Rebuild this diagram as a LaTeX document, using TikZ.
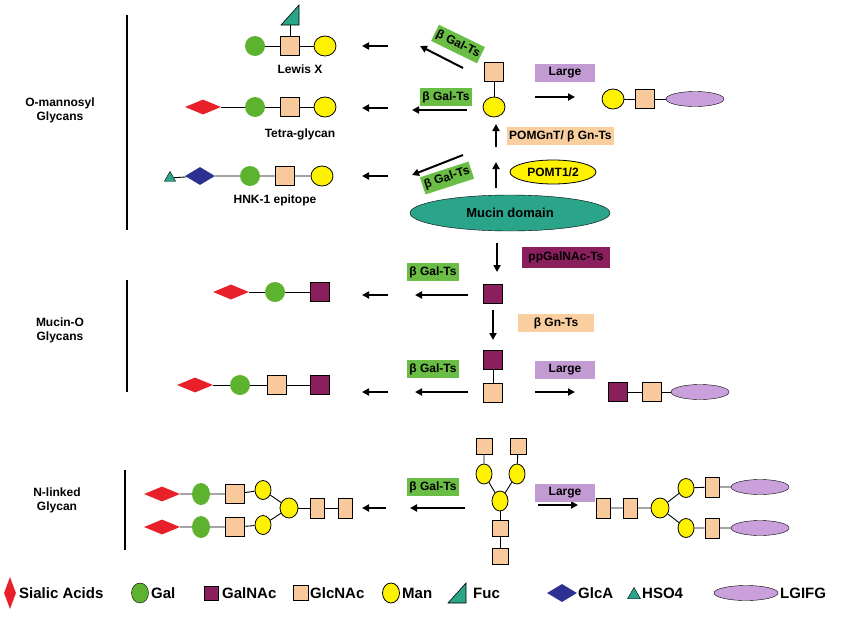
\documentclass[tikz,border=0pt]{standalone}
\usepackage{fontspec}
\setmainfont{Liberation Sans}
\usetikzlibrary{positioning, shapes.geometric, arrows.meta, calc}
\definecolor{galgreen}{HTML}{5DB330}
\definecolor{peach}{HTML}{F8C99A}
\definecolor{manyellow}{HTML}{FFF200}
\definecolor{galnacred}{HTML}{8B1F5E}
\definecolor{siared}{HTML}{E8202A}
\definecolor{glcablue}{HTML}{2E3192}
\definecolor{fucteal}{HTML}{2BA58A}
\definecolor{lavender}{HTML}{C9A0DC}
\definecolor{boxgreen}{HTML}{6ABD45}
\definecolor{boxpurple}{HTML}{C39BD3}
\definecolor{boxpeach}{HTML}{F9CFA0}
\newcommand{\lblfont}{\bfseries\fontsize{12}{14}\selectfont}
\tikzset{
    gal/.style={circle, fill=galgreen, minimum size=20pt, inner sep=0pt},
    glcnac/.style={rectangle, draw=black, fill=peach, minimum size=19pt, inner sep=0pt, line width=0.8pt},
    galnac/.style={rectangle, draw=black, fill=galnacred, minimum size=19pt, inner sep=0pt, line width=0.8pt},
    man/.style={ellipse, draw=black, fill=manyellow, minimum width=22pt, minimum height=20pt, inner sep=0pt, line width=0.8pt},
    sia/.style={diamond, fill=siared, minimum width=36pt, minimum height=15pt, inner sep=0pt},
    glca/.style={diamond, fill=glcablue, minimum width=30pt, minimum height=18pt, inner sep=0pt},
    hso/.style={regular polygon, regular polygon sides=3, draw=black, fill=fucteal, minimum size=14pt, inner sep=0pt},
    lgifg/.style={ellipse, draw=black, fill=lavender, minimum width=58pt, minimum height=15pt, inner sep=0pt},
    lnk/.style={line width=0.9pt},
    rxn/.style={line width=2pt, -{Triangle[length=7pt,width=7pt]}},
    enz/.style={fill=boxgreen, font=\lblfont, inner sep=2pt, minimum height=18pt},
    lrg/.style={fill=boxpurple, font=\lblfont, inner sep=2pt, minimum height=18pt, minimum width=60pt},
    gnt/.style={fill=boxpeach, font=\lblfont, inner sep=2pt, minimum height=18pt},
    glabel/.style={font=\lblfont},
    key/.style={font=\bfseries\fontsize{15}{17}\selectfont, anchor=west, inner sep=1pt},
    grp/.style={font=\lblfont, align=center},
    bar/.style={line width=1.5pt}
}
\newcommand{\fucose}[2]{% right-angled Fuc triangle at #2
  \coordinate (#1) at #2;
  \filldraw[fill=fucteal, draw=black, line width=0.6pt] ($(#1)+(-9,10)$) -- ($(#1)+(9,10)$) -- ($(#1)+(9,-10)$) -- cycle;}
\begin{document}
\begin{tikzpicture}[x=1pt, y=-1pt]
\useasboundingbox (0,0) rectangle (850,616);

% O-mannosyl glycans
\draw[bar] (127,15) -- (127,230);
\node[grp] (om) at (60,110) {O-mannosyl\\Glycans};

\node[gal] (lx1) at (255,46) {};
\node[glcnac] (lx2) at (290,46) {};
\node[man] (lx3) at (325,46) {};
\fucose{lx4}{(290,15)}
\draw[lnk] (lx1) -- (lx2) -- (lx3);
\draw[lnk] (lx2) -- ($(lx4)+(0,10)$);
\node[glabel] (lxl) at (300,69) {Lewis X};

\node[sia] (tg1) at (203,107) {};
\node[gal] (tg2) at (255,107) {};
\node[glcnac] (tg3) at (290,107) {};
\node[man] (tg4) at (325,107) {};
\draw[lnk] (tg1) -- (tg2) -- (tg3) -- (tg4);
\node[glabel] (tgl) at (300,134) {Tetra-glycan};

\node[hso, minimum size=13pt] (hk1) at (170,178) {};
\node[glca] (hk2) at (200,176) {};
\node[gal] (hk3) at (250,176) {};
\node[glcnac] (hk4) at (285,176) {};
\node[man] (hk5) at (322,176) {};
\draw[lnk] (hk1) -- (hk2) -- (hk3) -- (hk4) -- (hk5);
\node[glabel] (hkl) at (275,200) {HNK-1 epitope};

\coordinate (a1s) at (388,46);  \coordinate (a1e) at (362,46);
\coordinate (a2s) at (388,108); \coordinate (a2e) at (362,108);
\coordinate (a3s) at (388,176); \coordinate (a3e) at (362,176);
\draw[rxn] (a1s) -- (a1e);
\draw[rxn] (a2s) -- (a2e);
\draw[rxn] (a3s) -- (a3e);

\node[glcnac] (om1) at (494,72) {};
\node[man] (om2) at (494,107) {};
\draw[lnk] (om1) -- (om2);

\coordinate (d1s) at (463,68);  \coordinate (d1e) at (420,46);
\coordinate (d2s) at (467,110); \coordinate (d2e) at (412,110);
\coordinate (d3s) at (463,155); \coordinate (d3e) at (412,175);
\draw[rxn] (d1s) -- (d1e);
\draw[rxn] (d2s) -- (d2e);
\draw[rxn] (d3s) -- (d3e);
\node[enz, rotate=-26] (e1) at (458,44) {β Gal-Ts};
\node[enz] (e2) at (446,97) {β Gal-Ts};
\node[enz, rotate=18] (e3) at (447,178) {β Gal-Ts};

\node[ellipse, fill=fucteal, draw=black, minimum width=200pt, minimum height=36pt, font=\bfseries\fontsize{13}{15}\selectfont] (muc) at (510,213) {Mucin domain};
\coordinate (u1s) at (496,188); \coordinate (u1e) at (496,162);
\coordinate (u2s) at (496,147); \coordinate (u2e) at (496,124);
\draw[rxn] (u1s) -- (u1e);
\draw[rxn] (u2s) -- (u2e);
\node[ellipse, fill=manyellow, draw=black, line width=0.8pt, minimum width=86pt, minimum height=24pt, inner sep=0pt, font=\lblfont] (pomt) at (553,172) {POMT1/2};
\node[gnt, anchor=west] (pomgnt) at (507,136) {POMGnT/ β Gn-Ts};

\coordinate (r1s) at (535,97); \coordinate (r1e) at (575,97);
\draw[rxn] (r1s) -- (r1e);
\node[lrg] (l1) at (565,73) {Large};
\node[man] (rl1) at (613,99) {};
\node[glcnac] (rl2) at (645,99) {};
\node[lgifg] (rl3) at (695,99) {};
\draw[lnk] (rl1) -- (rl2) -- (rl3);

% Mucin-O glycans
\draw[bar] (127,280) -- (127,392);
\node[grp] (mo) at (60,330) {Mucin-O\\Glycans};

\coordinate (v1s) at (497,243); \coordinate (v1e) at (497,272);
\draw[rxn] (v1s) -- (v1e);
\node[fill=galnacred, font=\lblfont, minimum width=88pt, minimum height=21pt, inner sep=2pt] (ppg) at (566,257) {ppGalNAc-Ts};
\node[galnac] (mc1) at (493,294) {};
\coordinate (m1s) at (468,295); \coordinate (m1e) at (415,295);
\draw[rxn] (m1s) -- (m1e);
\node[enz] (e4) at (433,272) {β Gal-Ts};
\coordinate (m2s) at (388,295); \coordinate (m2e) at (362,295);
\draw[rxn] (m2s) -- (m2e);
\node[sia] (ms1) at (231,292) {};
\node[gal] (ms2) at (275,292) {};
\node[galnac] (ms3) at (320,292) {};
\draw[lnk] (ms1) -- (ms2) -- (ms3);

\coordinate (v2s) at (493,310); \coordinate (v2e) at (493,340);
\draw[rxn] (v2s) -- (v2e);
\node[gnt, minimum width=76pt] (bgn) at (556,323) {β Gn-Ts};
\node[galnac] (mc2) at (493,360) {};
\node[glcnac] (mc3) at (493,393) {};
\draw[lnk] (mc2) -- (mc3);

\coordinate (m3s) at (468,392); \coordinate (m3e) at (415,392);
\draw[rxn] (m3s) -- (m3e);
\node[enz] (e5) at (433,369) {β Gal-Ts};
\coordinate (m4s) at (388,392); \coordinate (m4e) at (362,392);
\draw[rxn] (m4s) -- (m4e);
\node[sia] (mt1) at (195,385) {};
\node[gal] (mt2) at (240,385) {};
\node[glcnac] (mt3) at (277,385) {};
\node[galnac] (mt4) at (320,385) {};
\draw[lnk] (mt1) -- (mt2) -- (mt3) -- (mt4);

\coordinate (r2s) at (535,392); \coordinate (r2e) at (575,392);
\draw[rxn] (r2s) -- (r2e);
\node[lrg] (l2) at (565,370) {Large};
\node[galnac] (rm1) at (618,392) {};
\node[glcnac] (rm2) at (652,392) {};
\node[lgifg] (rm3) at (700,392) {};
\draw[lnk] (rm1) -- (rm2) -- (rm3);

% N-linked glycan
\draw[bar] (125,470) -- (125,550);
\node[grp] (nl) at (57,500) {N-linked\\Glycan};

\node[glcnac, minimum size=16pt] (nt1) at (484,446) {};
\node[glcnac, minimum size=16pt] (nt2) at (518,446) {};
\node[man, minimum width=16pt, minimum height=20pt] (nt3) at (484,474) {};
\node[man, minimum width=16pt, minimum height=20pt] (nt4) at (517,474) {};
\node[man, minimum width=16pt, minimum height=20pt] (nt5) at (500,501) {};
\node[glcnac, minimum size=16pt] (nt6) at (500,528) {};
\node[glcnac, minimum size=16pt] (nt7) at (500,556) {};
\draw[lnk] (nt1) -- (nt3) -- (nt5) -- (nt4) -- (nt2);
\draw[lnk] (nt5) -- (nt6) -- (nt7);

\coordinate (n1s) at (465,508); \coordinate (n1e) at (410,508);
\draw[rxn] (n1s) -- (n1e);
\node[enz] (e6) at (433,487) {β Gal-Ts};
\coordinate (n2s) at (386,508); \coordinate (n2e) at (362,508);
\draw[rxn] (n2s) -- (n2e);

\node[sia] (na1) at (162,494) {};
\node[gal, minimum width=18pt, minimum height=22pt, ellipse] (na2) at (201,494) {};
\node[glcnac] (na3) at (235,494) {};
\node[man, minimum width=16pt, minimum height=19pt] (na4) at (263,490) {};
\node[sia] (nb1) at (162,527) {};
\node[gal, minimum width=18pt, minimum height=22pt, ellipse] (nb2) at (201,527) {};
\node[glcnac] (nb3) at (235,527) {};
\node[man, minimum width=16pt, minimum height=19pt] (nb4) at (263,525) {};
\node[man, minimum width=18pt, minimum height=20pt] (nc1) at (289,508) {};
\node[glcnac, minimum width=14pt, minimum height=20pt] (nc2) at (317,508) {};
\node[glcnac, minimum width=14pt, minimum height=20pt] (nc3) at (345,508) {};
\draw[lnk] (na1) -- (na2) -- (na3) -- (na4) -- (nc1);
\draw[lnk] (nb1) -- (nb2) -- (nb3) -- (nb4) -- (nc1);
\draw[lnk] (nc1) -- (nc2) -- (nc3);

\coordinate (r3s) at (538,505); \coordinate (r3e) at (578,505);
\draw[rxn] (r3s) -- (r3e);
\node[lrg] (l3) at (565,493) {Large};
\node[glcnac, minimum width=14pt, minimum height=20pt] (nr1) at (603,508) {};
\node[glcnac, minimum width=14pt, minimum height=20pt] (nr2) at (630,508) {};
\node[man, minimum width=18pt, minimum height=20pt] (nr3) at (660,508) {};
\node[man, minimum width=16pt, minimum height=19pt] (nr4) at (686,488) {};
\node[man, minimum width=16pt, minimum height=19pt] (nr5) at (686,528) {};
\node[glcnac, minimum width=14pt, minimum height=20pt] (nr6) at (712,487) {};
\node[glcnac, minimum width=14pt, minimum height=20pt] (nr7) at (712,528) {};
\node[lgifg] (nr8) at (760,487) {};
\node[lgifg] (nr9) at (760,528) {};
\draw[lnk] (nr1) -- (nr2) -- (nr3) -- (nr4) -- (nr6) -- (nr8);
\draw[lnk] (nr3) -- (nr5) -- (nr7) -- (nr9);

% legend
\node[diamond, fill=siared, minimum width=12pt, minimum height=32pt, inner sep=0pt] (k1) at (10,593) {};
\node[key] (k1t) at (18,593) {Sialic Acids};
\node[gal, minimum width=17pt, minimum height=20pt, ellipse, draw=black] (k2) at (140,593) {};
\node[key] (k2t) at (150,593) {Gal};
\node[galnac, minimum size=14pt] (k3) at (211,593) {};
\node[key] (k3t) at (221,593) {GalNAc};
\node[glcnac, minimum size=15pt] (k4) at (301,593) {};
\node[key] (k4t) at (309,593) {GlcNAc};
\node[man, minimum width=17pt, minimum height=20pt] (k5) at (391,593) {};
\node[key] (k5t) at (401,593) {Man};
\fucose{k6}{(457,593)}
\node[key] (k6t) at (472,593) {Fuc};
\node[glca] (k7) at (562,593) {};
\node[key] (k7t) at (577,593) {GlcA};
\node[hso, minimum size=15pt] (k8) at (634,595) {};
\node[key] (k8t) at (641,593) {HSO4};
\node[lgifg, minimum width=64pt] (k9) at (746,593) {};
\node[key] (k9t) at (779,593) {LGIFG};
\end{tikzpicture}
\end{document}
